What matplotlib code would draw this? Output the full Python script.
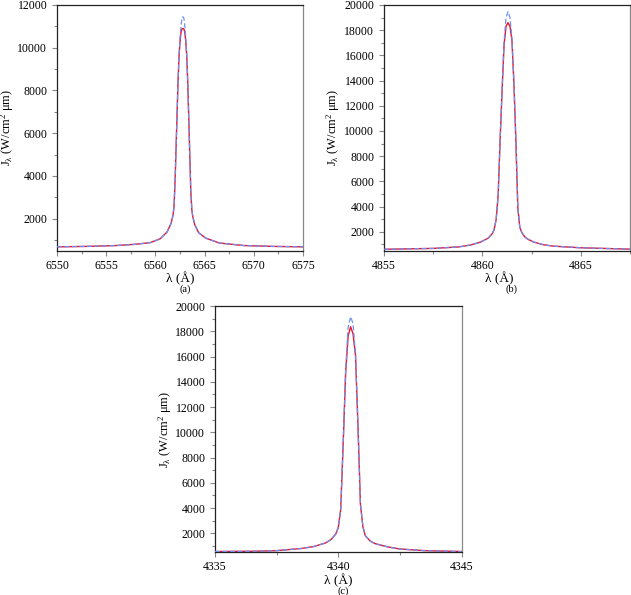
import numpy as np
import matplotlib
matplotlib.use('Agg')
import matplotlib.pyplot as plt
from matplotlib.ticker import MultipleLocator

plt.rcParams['font.family'] = 'Liberation Serif'
plt.rcParams['mathtext.fontset'] = 'custom'
plt.rcParams['mathtext.rm'] = 'Liberation Serif'
plt.rcParams['mathtext.it'] = 'Liberation Serif:italic'

# (a) H-alpha
wl_a = [6550.0, 6553.0, 6556.0, 6558.0, 6559.5, 6560.5, 6561.2, 6561.6, 6561.8,
        6561.9, 6562.0, 6562.1, 6562.2, 6562.3, 6562.4, 6562.5, 6562.6, 6562.7,
        6562.8, 6562.9, 6563.0, 6563.1, 6563.2, 6563.3, 6563.4, 6563.5, 6563.6,
        6563.7, 6563.8, 6564.0, 6564.4, 6565.1, 6566.5, 6569.0, 6572.0, 6575.0]
red_a = [680, 700, 740, 800, 880, 1060, 1380, 1780, 2180,
         2600, 3700, 5250, 6800, 8350, 9550, 10250, 10700, 10880,
         10900, 10880, 10700, 10250, 9500, 8250, 6600, 4950, 3300,
         2450, 2100, 1720, 1340, 1090, 860, 740, 700, 680]
blue_a = [680, 700, 740, 800, 880, 1060, 1380, 1780, 2180,
          2600, 3700, 5250, 6800, 8350, 9600, 10400, 11000, 11380,
          11450, 11380, 11000, 10400, 9550, 8250, 6600, 4950, 3300,
          2450, 2100, 1720, 1340, 1090, 860, 740, 700, 680]

# (b) H-beta
wl_b = [4855.0, 4857.5, 4858.8, 4859.4, 4859.9, 4860.3, 4860.5, 4860.6, 4860.7,
        4860.8, 4860.9, 4861.0, 4861.1, 4861.2, 4861.3, 4861.4, 4861.5, 4861.6,
        4861.7, 4861.8, 4861.9, 4862.0, 4862.15, 4862.3, 4862.6, 4863.1, 4863.6,
        4865.0, 4867.5]
red_b = [610, 680, 800, 950, 1180, 1500, 1850, 2200, 3000,
         4900, 9300, 13200, 16800, 18300, 18600, 18300, 17200, 13800,
         9300, 3900, 2350, 1950, 1600, 1420, 1190, 970, 860,
         730, 620]
blue_b = [610, 680, 800, 950, 1180, 1500, 1850, 2200, 3000,
          4900, 9300, 13300, 17100, 19000, 19470, 19000, 17400, 13900,
          9300, 3900, 2350, 1950, 1600, 1420, 1190, 970, 860,
          730, 620]

# (c) H-gamma
wl_c = [4335.0, 4336.5, 4337.5, 4338.5, 4339.0, 4339.5, 4339.7, 4339.9, 4340.0,
        4340.1, 4340.2, 4340.3, 4340.4, 4340.5, 4340.6, 4340.7, 4340.8, 4340.9,
        4341.0, 4341.1, 4341.3, 4341.5, 4342.0, 4342.5, 4343.5, 4345.0]
red_c = [560, 580, 630, 800, 950, 1250, 1500, 1950, 2450,
         3900, 9100, 14700, 17600, 18360, 17800, 16100, 10500, 4300,
         2520, 1800, 1380, 1180, 930, 760, 630, 560]
blue_c = [560, 580, 630, 800, 950, 1250, 1500, 1950, 2450,
          3900, 9100, 14900, 18300, 19150, 18600, 16200, 10500, 4300,
          2520, 1800, 1380, 1180, 930, 760, 630, 560]

panels = [
    dict(wl=wl_a, red=red_a, blue=blue_a, xlim=(6550, 6575), ylim=(500, 12000),
         pos=[0.0903, 0.5787, 0.3898, 0.4129], tag='(a)', xl=0.50, ylx=-0.165),
    dict(wl=wl_b, red=red_b, blue=blue_b, xlim=(4855, 4867.5), ylim=(500, 20000),
         pos=[0.6086, 0.5787, 0.3898, 0.4129], tag='(b)', xl=0.47, ylx=-0.170),
    dict(wl=wl_c, red=red_c, blue=blue_c, xlim=(4335, 4345), ylim=(500, 20000),
         pos=[0.3407, 0.0718, 0.3907, 0.4139], tag='(c)', xl=0.50, ylx=-0.166),
]

fig = plt.figure(figsize=(6.31, 5.95), dpi=100)

for p in panels:
    ax = fig.add_axes(p['pos'])
    ax.plot(p['wl'], p['red'], color='#e8142c', lw=1.0, zorder=2)
    ax.plot(p['wl'], p['blue'], color='#6f8ff0', lw=0.9, ls=(0, (4, 2)), zorder=3)

    ax.set_xlim(p['xlim'])
    ax.set_ylim(p['ylim'])
    ax.xaxis.set_major_locator(MultipleLocator(5))
    ax.xaxis.set_minor_locator(MultipleLocator(2.5))
    ax.yaxis.set_major_locator(MultipleLocator(2000))
    ax.yaxis.set_minor_locator(MultipleLocator(1000))

    ax.tick_params(which='both', direction='out', color='#888888',
                   labelsize=8.5, top=False, right=False)
    ax.tick_params(which='major', length=3.5, width=0.8)
    ax.tick_params(which='minor', length=2.5, width=0.8)
    ax.tick_params(axis='x', pad=3)
    ax.tick_params(axis='y', pad=3.5)

    for s in ['left', 'bottom', 'top']:
        ax.spines[s].set_color('#222222')
        ax.spines[s].set_linewidth(0.9)
    ax.spines['right'].set_color('#888888')
    ax.spines['right'].set_linewidth(0.9)

    ax.set_ylabel(r'J$_\mathrm{λ}$ (W/cm$^\mathrm{2}$ μm)', fontsize=9)
    ax.yaxis.set_label_coords(p['ylx'], 0.5)
    ax.text(p['xl'], -0.113, 'λ (Å)', transform=ax.transAxes,
            ha='center', va='center', fontsize=9.5)
    ax.text(0.52, -0.158, p['tag'], transform=ax.transAxes,
            ha='center', va='center', fontsize=7.5)

fig.savefig('out.png', dpi=100)
